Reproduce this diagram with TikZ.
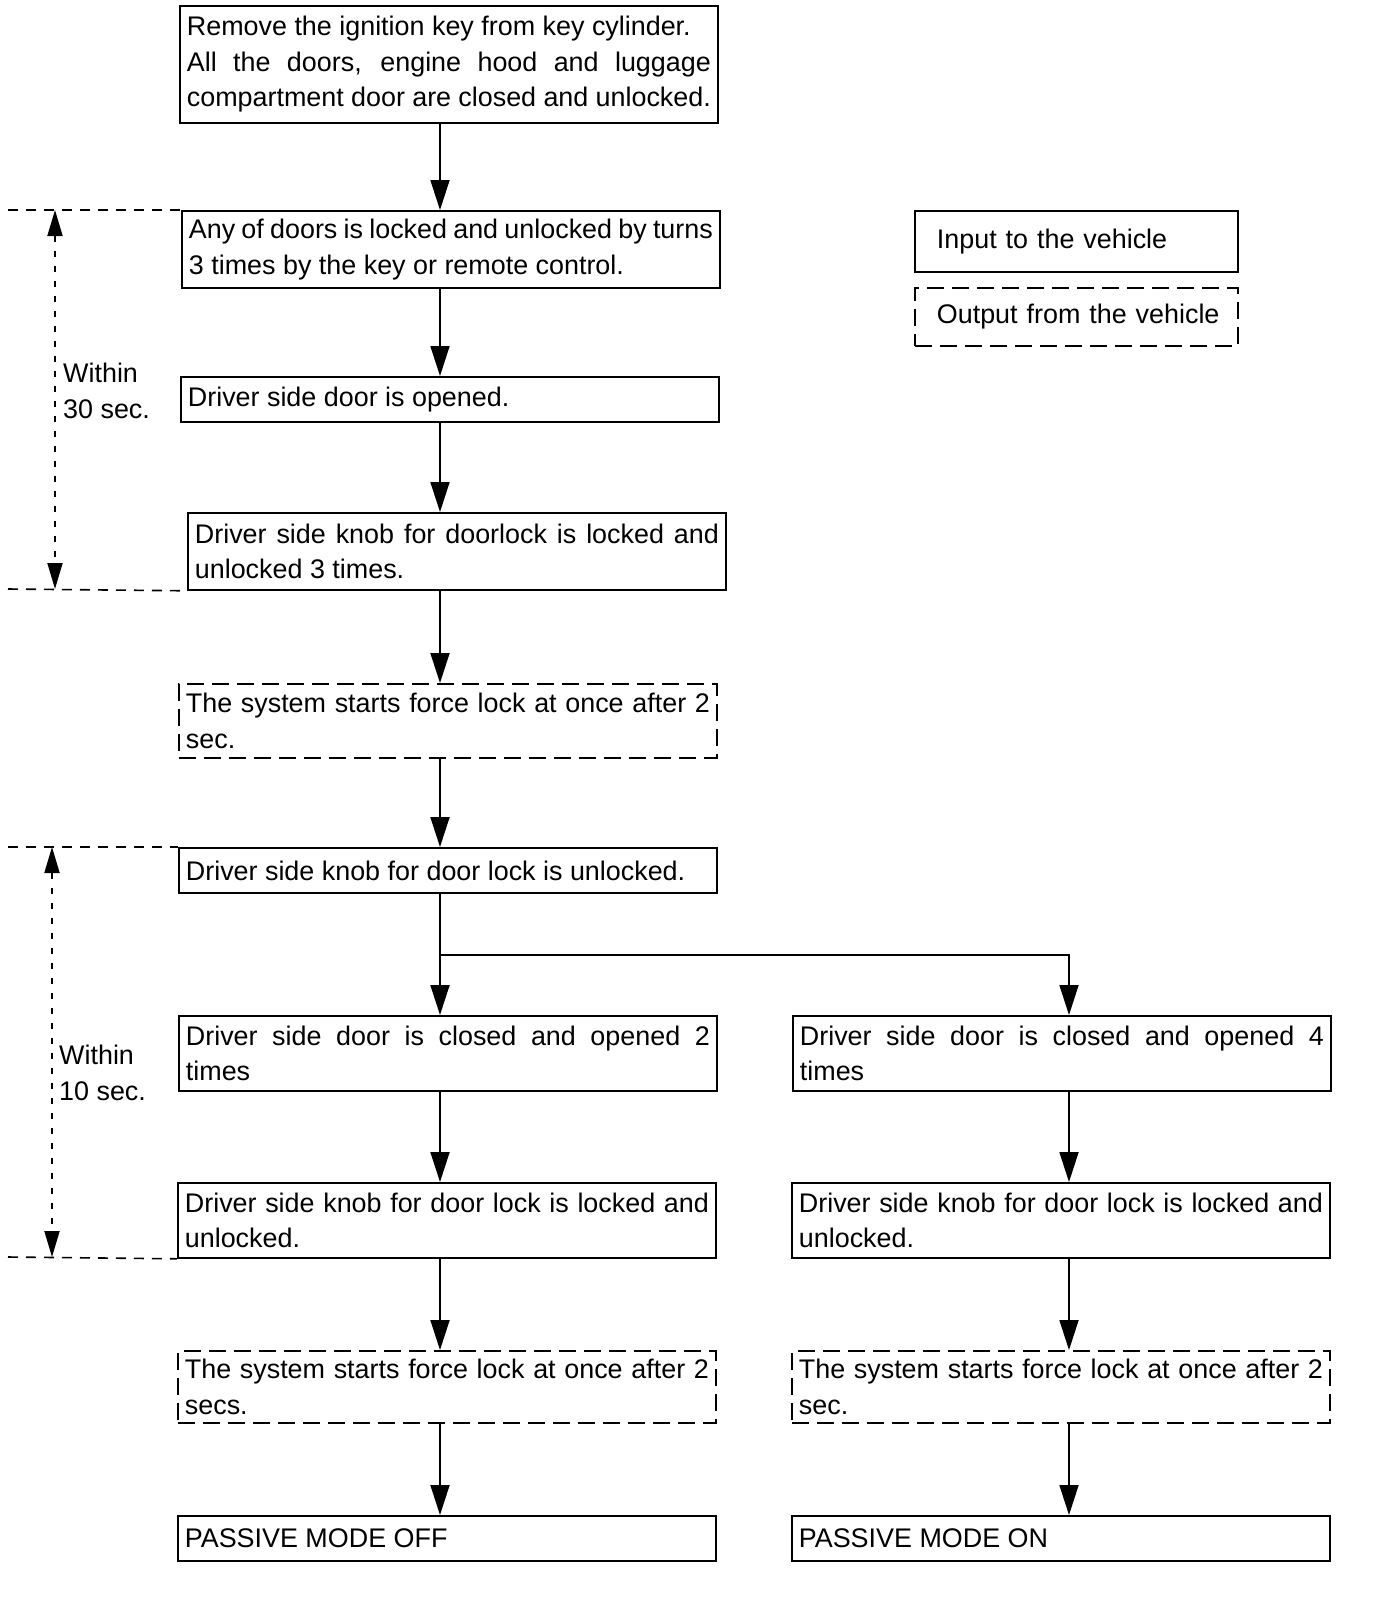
\documentclass[tikz,border=0pt]{standalone}
\usepackage{fontspec}
\setmainfont{Liberation Sans}
\usetikzlibrary{arrows.meta}
\begin{document}
\begin{tikzpicture}[x=1pt,y=-1pt,
  txt/.style={font=\fontsize{26.9}{35.5}\selectfont},
  box/.style={txt, draw, line width=1.8pt, text width=524pt, inner xsep=7pt, inner ysep=3pt,
              align=justify, anchor=north west, minimum width=538pt},
  obox/.style={box, dash pattern=on 17pt off 8pt},
  arr/.style={line width=1.8pt, -{Triangle[width=19pt,length=30pt]}},
  hdash/.style={line width=1.6pt, dash pattern=on 10pt off 8pt},
  vdash/.style={line width=1.8pt, dash pattern=on 6pt off 9pt},
  tarr/.style={{Triangle[width=15pt,length=26pt]}-{Triangle[width=15pt,length=26pt]}},
  lbl/.style={txt, align=left, anchor=west, inner sep=0pt},
  legend/.style={txt, draw, line width=1.8pt, anchor=north west, minimum width=323pt,
                 text width=305pt, inner xsep=9pt, align=left}
]
\useasboundingbox (0,0) rectangle (1376,1606);

% column coordinates
\coordinate (cL) at (440,0);
\coordinate (cR) at (1069,0);

% main boxes
\node[box, minimum height=117pt] (b1) at (179,5)
  {Remove the ignition key from key cylinder.\\ All the doors, engine hood and luggage\linebreak compartment door are closed and unlocked.};
\node[box, minimum height=77pt] (b2) at (181,210)
  {Any of doors is locked and unlocked by turns\linebreak 3 times by the key or remote control.};
\node[box, minimum height=45pt] (b3) at (180,376)
  {Driver side door is opened.};
\node[box, minimum height=77pt] (b4) at (187,512)
  {Driver side knob for doorlock is locked and\linebreak unlocked 3 times.};
\node[obox, minimum height=74pt] (b5) at (178,683)
  {The system starts force lock at once after 2\linebreak sec.};
\node[box, minimum height=45pt] (b6) at (178,847)
  {Driver side knob for door lock is unlocked.};
\node[box, minimum height=75pt] (b7L) at (178,1015)
  {Driver side door is closed and opened 2\linebreak times};
\node[box, minimum height=75pt] (b7R) at (792,1015)
  {Driver side door is closed and opened 4\linebreak times};
\node[box, minimum height=75pt] (b8L) at (177,1182)
  {Driver side knob for door lock is locked and\linebreak unlocked.};
\node[box, minimum height=75pt] (b8R) at (791,1182)
  {Driver side knob for door lock is locked and\linebreak unlocked.};
\node[obox, minimum height=72pt] (b9L) at (177,1350)
  {The system starts force lock at once after 2\linebreak secs.};
\node[obox, minimum height=72pt] (b9R) at (791,1350)
  {The system starts force lock at once after 2\linebreak sec.};
\node[box, minimum height=45pt] (b10L) at (177,1515)
  {PASSIVE MODE OFF};
\node[box, minimum height=45pt] (b10R) at (791,1515)
  {PASSIVE MODE ON};

% legend
\node[legend, minimum height=61pt] (lin) at (914,210) {\hspace*{13pt}Input to the vehicle};
\node[legend, minimum height=58pt, dash pattern=on 17pt off 8pt] (lout) at (914,287) {\hspace*{13pt}Output from the vehicle};

% connectors
\draw[arr] (b1.south -| cL) -- (b2.north -| cL);
\draw[arr] (b2.south -| cL) -- (b3.north -| cL);
\draw[arr] (b3.south -| cL) -- (b4.north -| cL);
\draw[arr] (b4.south -| cL) -- (b5.north -| cL);
\draw[arr] (b5.south -| cL) -- (b6.north -| cL);
\coordinate (split) at (440,955);
\draw[arr] (b6.south -| cL) -- (b7L.north -| cL);
\draw[arr] (split) -| (b7R.north -| cR);
\draw[arr] (b7L.south -| cL) -- (b8L.north -| cL);
\draw[arr] (b7R.south -| cR) -- (b8R.north -| cR);
\draw[arr] (b8L.south -| cL) -- (b9L.north -| cL);
\draw[arr] (b8R.south -| cR) -- (b9R.north -| cR);
\draw[arr] (b9L.south -| cL) -- (b10L.north -| cL);
\draw[arr] (b9R.south -| cR) -- (b10R.north -| cR);

% time markers: 30 sec
\coordinate (t1a) at (8,210);
\coordinate (t1b) at (8,589);
\coordinate (t1top) at (55,210);
\coordinate (t1bot) at (55,589);
\draw[hdash] (t1a) -- (b2.north west);
\draw[hdash] (t1b) -- (b4.south west);
\draw[vdash, tarr] (t1top) -- (t1bot);
\node[lbl] (w30) at (63,391) {Within\\30 sec.};

% time markers: 10 sec
\coordinate (t2a) at (8,847);
\coordinate (t2b) at (8,1257);
\coordinate (t2top) at (52,847);
\coordinate (t2bot) at (52,1257);
\draw[hdash] (t2a) -- (b6.north west);
\draw[hdash] (t2b) -- (b8L.south west);
\draw[vdash, tarr] (t2top) -- (t2bot);
\node[lbl] (w10) at (59,1073) {Within\\10 sec.};

\end{tikzpicture}
\end{document}
